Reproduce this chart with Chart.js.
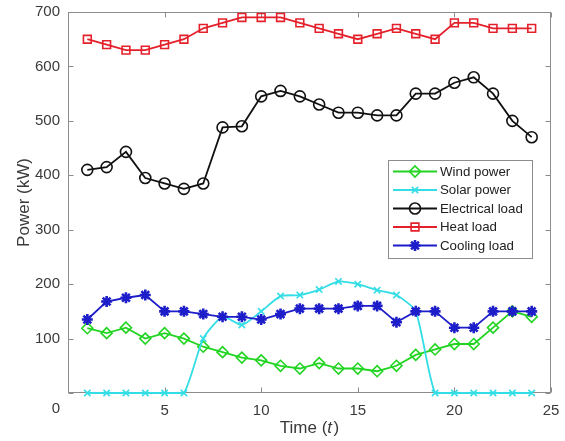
<!DOCTYPE html>
<html>
<head>
<meta charset="utf-8">
<script src="https://cdn.jsdelivr.net/npm/chart.js@4/dist/chart.umd.min.js"></script>
<style>
html,body{margin:0;padding:0;background:#fff;}
#wrap{width:565px;height:441px;}
</style>
</head>
<body>
<div id="wrap"><canvas id="c" width="565" height="441"></canvas></div>
<script>
// ---- data ----
const hours = [1,2,3,4,5,6,7,8,9,10,11,12,13,14,15,16,17,18,19,20,21,22,23,24];
const windPower      = [119,110,120,100,110,100,85,75,65,60,50,45,55,45,45,40,50,70,80,90,90,120,150,140];
const solarPower     = [0,0,0,0,0,0,100,140,125,150,178,180,190,205,200,189,180,150,0,0,0,0,0,0];
const electricalLoad = [410,415,443,395,385,375,385,488,490,545,555,545,530,515,515,510,510,550,550,570,580,550,500,470];
const heatLoad       = [650,640,630,630,640,650,670,680,690,690,690,680,670,660,650,660,670,660,650,680,680,670,670,670];
const coolingLoad    = [135,168,175,180,150,150,145,140,140,135,145,155,155,155,160,160,130,150,150,120,120,150,150,150];
const seriesNames = ['Wind power','Solar power','Electrical load','Heat load','Cooling load'];
const xTickValues = [0,5,10,15,20,25];
const yTickValues = [0,100,200,300,400,500,600,700];
const xTitleParts = ['Time (', 't', ')'];
const yTitle = 'Power (kW)';

const FONT = '"Liberation Sans", Arial, sans-serif';
const AXIS_COLOR = '#8c8c8c';
const TEXT_COLOR = '#3a3a3a';

function pts(vals){ return vals.map((v,i)=>({x:hours[i], y:v})); }

const datasets = [
  {label:seriesNames[0], data:pts(windPower), borderColor:'#22d422', pointBorderColor:'#22d422',
   pointBackgroundColor:'rgba(0,0,0,0)', pointStyle:'rectRot', pointRadius:5.5, order:5},
  {label:seriesNames[1], data:pts(solarPower), borderColor:'#33dde6', pointBorderColor:'#33dde6',
   pointBackgroundColor:'rgba(0,0,0,0)', pointStyle:'crossRot', pointRadius:4.5, tension:0.2, order:4},
  {label:seriesNames[2], data:pts(electricalLoad), borderColor:'#111111', pointBorderColor:'#111111',
   pointBackgroundColor:'rgba(0,0,0,0)', pointStyle:'circle', pointRadius:5.5, order:3},
  {label:seriesNames[3], data:pts(heatLoad), borderColor:'#e4212b', pointBorderColor:'#e4212b',
   pointBackgroundColor:'rgba(0,0,0,0)', pointStyle:'rect', pointRadius:5.5, order:2},
  {label:seriesNames[4], data:pts(coolingLoad), borderColor:'#1d1dc9', pointBorderColor:'#1d1dc9',
   pointBackgroundColor:'#1d1dc9', pointStyle:'star', pointRadius:5.5, pointBorderWidth:2.6, order:1}
];
datasets.forEach(d=>{
  d.borderWidth = 1.8;
  if (d.pointBorderWidth === undefined) d.pointBorderWidth = 1.6;
  d.clip = false;
  d.fill = false;
  if (d.tension === undefined) d.tension = 0;
});

// box + inward ticks on four sides
const framePlugin = {
  id:'frame',
  beforeDatasetsDraw(chart){
    const {ctx, chartArea:a, scales:{x, y}} = chart;
    ctx.save();
    ctx.strokeStyle = AXIS_COLOR; ctx.lineWidth = 1;
    const L = Math.round(a.left)+0.5, R = Math.round(a.right)-0.5;
    const T = Math.round(a.top)+0.5, B = Math.round(a.bottom)-0.5;
    ctx.strokeRect(L, T, R-L, B-T);
    ctx.beginPath();
    x.ticks.forEach(t=>{
      const p = Math.round(x.getPixelForValue(t.value))+0.5;
      ctx.moveTo(p, B); ctx.lineTo(p, B-5);
      ctx.moveTo(p, T); ctx.lineTo(p, T+5);
    });
    y.ticks.forEach(t=>{
      const p = Math.round(y.getPixelForValue(t.value))+0.5;
      ctx.moveTo(L, p); ctx.lineTo(L+5, p);
      ctx.moveTo(R, p); ctx.lineTo(R-5, p);
    });
    ctx.stroke();
    ctx.restore();
  }
};

function drawMarker(ctx, ds, x, y){
  const opts = {pointStyle: ds.pointStyle, radius: ds.pointRadius, borderWidth: ds.pointBorderWidth, rotation:0};
  ctx.save();
  ctx.strokeStyle = ds.pointBorderColor;
  ctx.fillStyle = ds.pointBackgroundColor;
  ctx.lineWidth = ds.pointBorderWidth;
  Chart.helpers.drawPoint(ctx, opts, x, y);
  ctx.restore();
}

// legend inside the plot, upper right
const legendPlugin = {
  id:'innerLegend',
  afterDatasetsDraw(chart){
    const {ctx, chartArea:a} = chart;
    const w = 144, h = 98;
    const left = a.right - 19 - w, top = a.top + 148;
    ctx.save();
    ctx.fillStyle = '#ffffff';
    ctx.fillRect(left, top, w, h);
    ctx.strokeStyle = '#8c8c8c'; ctx.lineWidth = 1;
    ctx.strokeRect(Math.round(left)+0.5, Math.round(top)+0.5, w, h);
    ctx.font = '13.3px ' + FONT;
    ctx.textBaseline = 'middle';
    ctx.textAlign = 'left';
    chart.data.datasets.forEach((ds, i)=>{
      const cy = top + 11.5 + i*18.5;
      ctx.strokeStyle = ds.borderColor; ctx.lineWidth = ds.borderWidth;
      ctx.beginPath(); ctx.moveTo(left+5, cy); ctx.lineTo(left+49, cy); ctx.stroke();
      drawMarker(ctx, ds, left+27, cy);
      ctx.fillStyle = '#222';
      ctx.fillText(ds.label, left+52, cy+0.5);
    });
    ctx.restore();
  }
};

// x-axis title with italic t
const xTitlePlugin = {
  id:'xTitle',
  afterDraw(chart){
    const {ctx, chartArea:a} = chart;
    const normal = '17px ' + FONT, italic = 'italic 17px ' + FONT;
    ctx.save();
    ctx.fillStyle = TEXT_COLOR;
    ctx.textBaseline = 'middle';
    ctx.textAlign = 'left';
    const fonts = [normal, italic, normal];
    let widths = xTitleParts.map((s,i)=>{ ctx.font = fonts[i]; return ctx.measureText(s).width; });
    widths[1] += 1.5;
    const total = widths.reduce((p,c)=>p+c,0);
    let xx = (a.left + a.right)/2 - total/2;
    const yy = a.bottom + 35;
    xTitleParts.forEach((s,i)=>{ ctx.font = fonts[i]; ctx.fillText(s, xx, yy); xx += widths[i]; });
    ctx.restore();
  }
};

new Chart(document.getElementById('c'), {
  type:'line',
  data:{datasets},
  plugins:[framePlugin, legendPlugin, xTitlePlugin],
  options:{
    responsive:false,
    animation:false,
    devicePixelRatio:1,
    layout:{padding:{left:0, right:14, top:12, bottom:0}},
    plugins:{legend:{display:false}, tooltip:{enabled:false}},
    scales:{
      x:{
        type:'linear', min:0, max:25,
        afterBuildTicks(s){ s.ticks = xTickValues.map(v=>({value:v})); },
        afterFit(s){ s.height = 48; s.paddingLeft = 0; s.paddingRight = 0; },
        grid:{display:false, drawTicks:false},
        border:{display:false},
        ticks:{
          padding:9, color:TEXT_COLOR, maxRotation:0, autoSkip:false,
          font:{size:15, family:FONT},
          callback:(v)=> v === 0 ? '' : String(v)
        }
      },
      y:{
        type:'linear', min:0, max:700,
        afterBuildTicks(s){ s.ticks = yTickValues.map(v=>({value:v})); },
        afterFit(s){ s.width = 68; s.paddingTop = 0; s.paddingBottom = 0; },
        grid:{display:false, drawTicks:false},
        border:{display:false},
        ticks:{
          padding:8, color:TEXT_COLOR, autoSkip:false,
          font:{size:15, family:FONT, lineHeight:1.07},
          callback:(v)=> v === 0 ? ['', '', '0'] : String(v)
        },
        title:{display:true, text:yTitle, color:TEXT_COLOR, font:{size:17, family:FONT}, padding:{top:14, bottom:0}}
      }
    }
  }
});
</script>
</body>
</html>
